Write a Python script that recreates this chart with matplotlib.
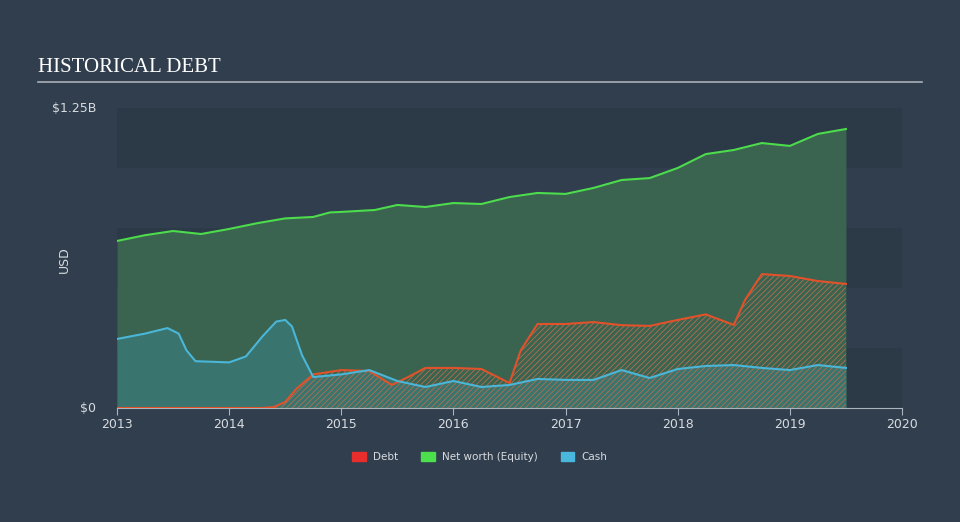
import numpy as np
import matplotlib.pyplot as plt

# values in billions USD
eq_x = [2013.0, 2013.25, 2013.5, 2013.75, 2014.0, 2014.25, 2014.5, 2014.75, 2014.9, 2015.0, 2015.3,
        2015.5, 2015.75, 2016.0, 2016.25, 2016.5, 2016.75, 2017.0, 2017.25, 2017.5, 2017.75,
        2018.0, 2018.25, 2018.5, 2018.75, 2019.0, 2019.25, 2019.5]
eq_y = [0.696, 0.72, 0.7375, 0.725, 0.746, 0.77, 0.79, 0.796, 0.815, 0.817, 0.825,
        0.846, 0.8375, 0.854, 0.85, 0.879, 0.896, 0.892, 0.917, 0.95, 0.958,
        1.0, 1.058, 1.075, 1.104, 1.092, 1.142, 1.1625]

cash_x = [2013.0, 2013.25, 2013.45, 2013.55, 2013.62, 2013.7, 2014.0, 2014.15, 2014.3, 2014.42, 2014.5,
          2014.56, 2014.65, 2014.75, 2015.0, 2015.25, 2015.5, 2015.75, 2016.0, 2016.25, 2016.5,
          2016.75, 2017.0, 2017.25, 2017.5, 2017.75, 2018.0, 2018.25, 2018.5, 2018.75, 2019.0,
          2019.25, 2019.5]
cash_y = [0.2875, 0.31, 0.333, 0.31, 0.24, 0.195, 0.19, 0.215, 0.3, 0.36, 0.367,
          0.34, 0.22, 0.129, 0.14, 0.158, 0.1125, 0.0875, 0.1125, 0.0875, 0.096,
          0.121, 0.117, 0.117, 0.158, 0.125, 0.1625, 0.175, 0.179, 0.167, 0.158,
          0.179, 0.167]

debt_x = [2013.0, 2014.0, 2014.3, 2014.4, 2014.5, 2014.6, 2014.75, 2015.0, 2015.25, 2015.45, 2015.6,
          2015.75, 2016.0, 2016.25, 2016.5, 2016.6, 2016.75, 2017.0, 2017.25, 2017.5, 2017.75,
          2018.0, 2018.25, 2018.5, 2018.6, 2018.75, 2019.0, 2019.25, 2019.5]
debt_y = [0.0, 0.0, 0.0, 0.004, 0.025, 0.08, 0.14, 0.158, 0.154, 0.096, 0.13,
          0.167, 0.167, 0.1625, 0.104, 0.24, 0.35, 0.35, 0.358, 0.345, 0.342,
          0.367, 0.39, 0.346, 0.45, 0.558, 0.55, 0.529, 0.517]

bg = '#303e4e'
plt.rcParams['hatch.linewidth'] = 0.6

fig = plt.figure(figsize=(9.6, 5.22), dpi=100, facecolor=bg)
ax = fig.add_axes([117/960, 114/522, 785/960, 300/522])
ax.set_facecolor(bg)
ax.set_xlim(2013, 2020)
ax.set_ylim(0, 1.25)

# horizontal bands
for i in range(5):
    if i % 2 == 0:
        ax.axhspan(i * 0.25, (i + 1) * 0.25, color='#2c3947', zorder=0, lw=0)

ax.fill_between(eq_x, 0, eq_y, color='#3a6350', lw=0, zorder=1)
ax.plot(eq_x, eq_y, color='#4cdc4c', lw=1.5, zorder=5)

ax.fill_between(cash_x, 0, cash_y, color='#3a746e', lw=0, zorder=2)
ax.plot(cash_x, cash_y, color='#4ab6d8', lw=1.5, zorder=6)

ax.fill_between(debt_x, 0, debt_y, facecolor='none', edgecolor='#b0704f', hatch='//////', lw=0, zorder=3)
ax.plot(debt_x, debt_y, color='#e2522a', lw=1.5, zorder=4)

ax.set_yticks([0, 1.25])
ax.set_yticklabels(['$0', '$1.25B'])
ax.set_xticks(range(2013, 2021))
ax.tick_params(axis='y', length=0, colors='#d8dce0', labelsize=9, pad=15)
ax.tick_params(axis='x', length=5, color='#aab4be', colors='#d8dce0', labelsize=9, pad=2)
for lbl in ax.get_yticklabels():
    lbl.set_verticalalignment('center')
for s in ['top', 'right', 'left']:
    ax.spines[s].set_visible(False)
ax.spines['bottom'].set_color('#aab4be')
fig.text(64/960, 1 - 260/522, 'USD', color='#d8dce0', fontsize=9, rotation=90, ha='center', va='center')

fig.text(38/960, 1 - 67/522, 'HISTORICAL DEBT', family='Liberation Serif', fontsize=15,
         color='white', va='center', ha='left')
fig.add_artist(plt.Line2D([38/960, 922/960], [1 - 82/522, 1 - 82/522], color='#aab0b8', lw=1.2))

handles = [plt.Rectangle((0, 0), 1, 1, color=c) for c in ['#e82d2d', '#4ce04c', '#4ab8dc']]
fig.legend(handles, ['Debt', 'Net worth (Equity)', 'Cash'], loc='center', bbox_to_anchor=(0.5, 1 - 457/522),
           ncol=3, frameon=False, fontsize=7.5, labelcolor='#d8dce0', handlelength=1.3, handleheight=1.0,
           columnspacing=2.2, handletextpad=0.7)

fig.savefig('out.png', dpi=100, facecolor=bg)
